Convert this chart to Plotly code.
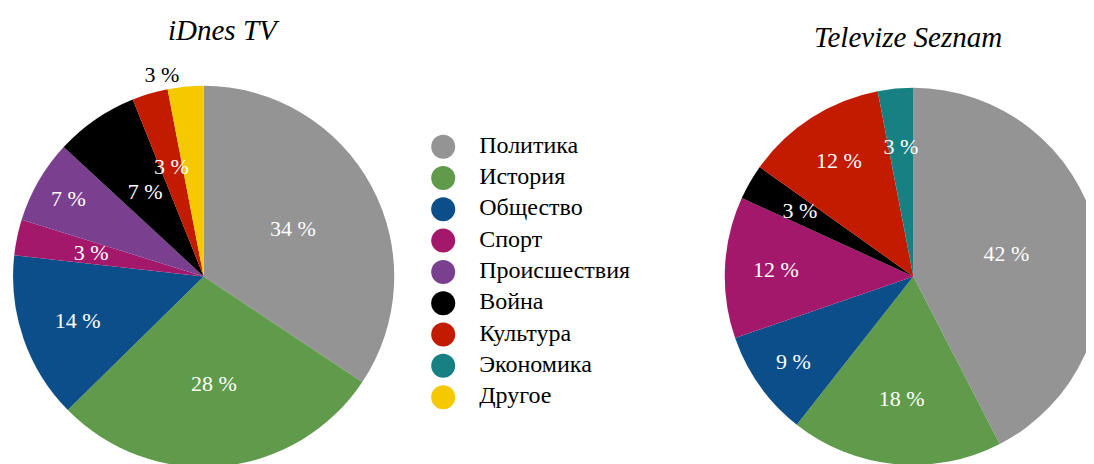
import plotly.graph_objects as go

# ---- data ----
categories = ["Политика", "История", "Общество", "Спорт", "Происшествия",
              "Война", "Культура", "Экономика", "Другое"]
category_colors = ["#949494", "#5f9b4a", "#0c4e89", "#a4186b", "#7b3f8f",
                   "#000000", "#c21b00", "#178083", "#f5c800"]

idnes_title = "iDnes TV"
idnes_labels = ["Политика", "История", "Общество", "Спорт", "Происшествия",
                "Война", "Культура", "Другое"]
idnes_values = [34, 28, 14, 3, 7, 7, 3, 3]

seznam_title = "Televize Seznam"
seznam_labels = ["Политика", "История", "Общество", "Спорт", "Война",
                 "Культура", "Экономика"]
seznam_values = [42, 18, 9, 12, 3, 12, 3]

# ---- layout constants ----
W, H = 1094, 464
FONT = "Liberation Serif"
PIE_SIZE = 22
color_of = dict(zip(categories, category_colors))


def pie_domain(cx, cy, r):
    return dict(x=[max(0, (cx - r) / W), min(1, (cx + r) / W)],
                y=[max(0, (H - cy - r) / H), min(1, (H - cy + r) / H)])


def pie_traces(labels, values, cx, cy, r, inner_frac, inner=(), outside=()):
    """Main pie plus a transparent, smaller copy that carries the labels of
    the narrow slices so they sit nearer the centre."""
    texts = [f"{v} %" for v in values]
    main = go.Pie(
        labels=labels, values=values,
        text=["" if l in inner else t for l, t in zip(labels, texts)],
        textinfo="text",
        textposition=["outside" if l in outside else "inside" for l in labels],
        insidetextorientation="horizontal",
        insidetextfont=dict(family=FONT, size=PIE_SIZE, color="white"),
        outsidetextfont=dict(family=FONT, size=PIE_SIZE, color="black"),
        marker=dict(colors=[color_of[l] for l in labels], line=dict(width=0)),
        sort=False, direction="clockwise", rotation=0,
        domain=pie_domain(cx, cy, r), showlegend=False,
        hovertext=texts, hoverinfo="label+text",
    )
    overlay = go.Pie(
        labels=labels, values=values,
        text=[t if l in inner else "" for l, t in zip(labels, texts)],
        textinfo="text", textposition="inside",
        insidetextorientation="horizontal",
        insidetextfont=dict(family=FONT, size=PIE_SIZE, color="white"),
        marker=dict(colors=["rgba(0,0,0,0)"] * len(labels), line=dict(width=0)),
        sort=False, direction="clockwise", rotation=0,
        domain=pie_domain(cx, cy, r * inner_frac), showlegend=False,
        hoverinfo="skip",
    )
    return [main, overlay]


fig = go.Figure()
for t in pie_traces(idnes_labels, idnes_values, 194, 269, 191, 0.66,
                    inner=("Спорт", "Война", "Культура"), outside=("Другое",)):
    fig.add_trace(t)
for t in pie_traces(seznam_labels, seznam_values, 905, 269, 189, 0.76,
                    inner=("Война", "Экономика")):
    fig.add_trace(t)

# legend drawn as a small category chart (large circles, tight spacing)
idx = list(range(len(categories)))
fig.add_trace(go.Scatter(
    x=[0] * len(categories), y=idx, mode="markers",
    marker=dict(size=24, color=category_colors, line=dict(width=0)),
    showlegend=False, hoverinfo="skip", cliponaxis=False,
))
fig.add_trace(go.Scatter(
    x=[1] * len(categories), y=idx, mode="text", text=categories,
    textposition="middle right",
    textfont=dict(family=FONT, size=24, color="black"),
    showlegend=False, hoverinfo="skip", cliponaxis=False,
))

fig.update_layout(
    width=W, height=H,
    margin=dict(l=0, r=0, t=0, b=0),
    paper_bgcolor="white", plot_bgcolor="rgba(0,0,0,0)",
    uniformtext=dict(minsize=PIE_SIZE, mode="show"),
    xaxis=dict(visible=False, domain=[434 / W, 470 / W], range=[0, 1], fixedrange=True),
    yaxis=dict(visible=False, domain=[1 - 390 / H, 1 - 139 / H],
               range=[len(categories) - 1, 0], fixedrange=True),
    annotations=[
        dict(text=idnes_title, x=214 / W, y=1 - 22 / H, xref="paper", yref="paper",
             showarrow=False, xanchor="center", yanchor="middle",
             font=dict(family=FONT, size=29, style="italic", color="black")),
        dict(text=seznam_title, x=900 / W, y=1 - 29 / H, xref="paper", yref="paper",
             showarrow=False, xanchor="center", yanchor="middle",
             font=dict(family=FONT, size=29, style="italic", color="black")),
    ],
)

fig.write_html("out.html")
